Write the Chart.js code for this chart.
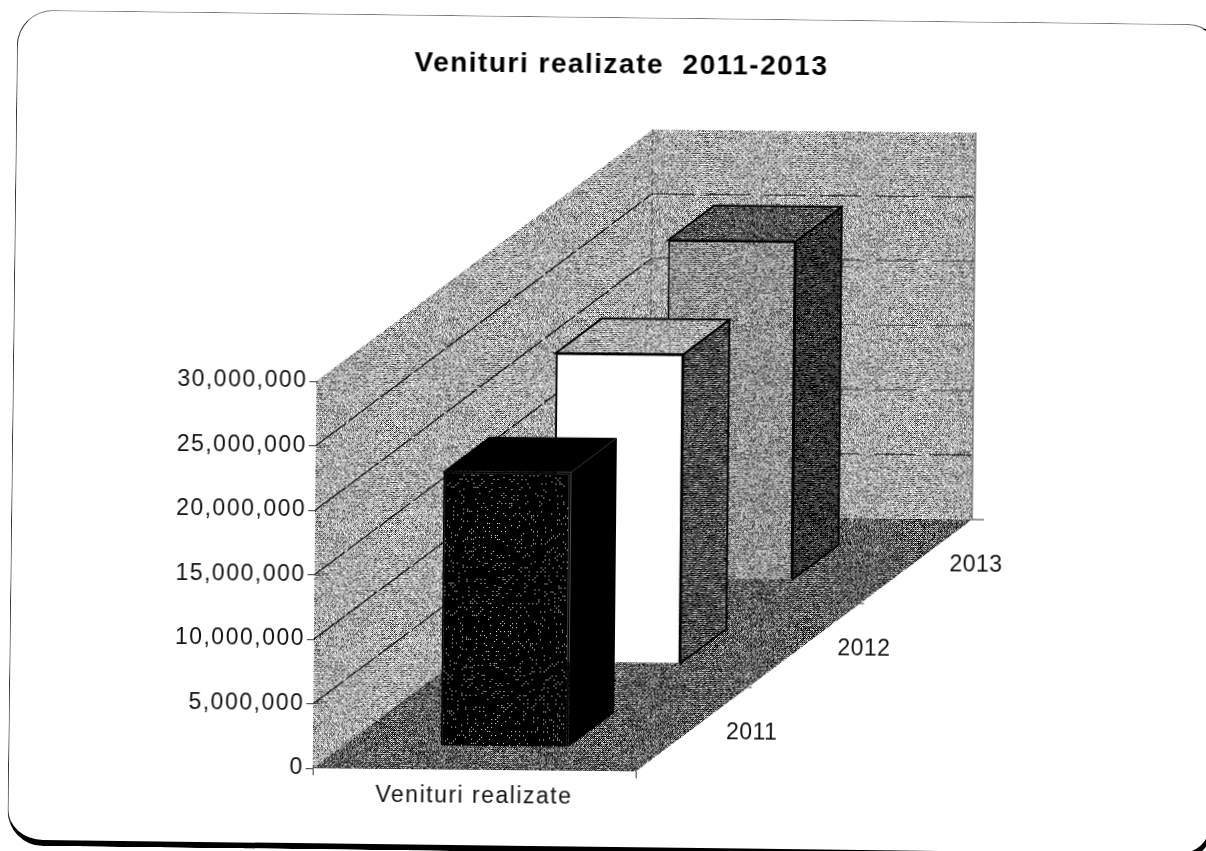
<!DOCTYPE html>
<html>
<head>
<meta charset="utf-8">
<style>
html,body{margin:0;padding:0;background:#fff;width:1206px;height:851px;overflow:hidden}
#frame{position:absolute;left:12px;top:17px;width:1202px;height:829px;box-sizing:content-box;
 border-top:1.5px solid #777;border-left:1.5px solid #333;border-right:4px solid #000;border-bottom:6px solid #000;
 border-radius:36px;transform:rotate(0.7deg);transform-origin:603px 425px}
#c{position:absolute;left:0;top:0;transform:rotate(0.55deg);transform-origin:603px 425.5px}
</style>
<script src="https://cdn.jsdelivr.net/npm/chart.js@4"></script>
</head>
<body>
<div id="frame"></div>
<canvas id="c" width="1206" height="851"></canvas>
<script>
const titleText = 'Venituri realizate  2011-2013';
const categories = ['Venituri realizate'];
const years = ['2011', '2012', '2013'];
const values2011 = [21350000];
const values2012 = [24000000];
const values2013 = [26250000];
const yTicksMax = 30000000;
const yTicksStep = 5000000;

// deterministic halftone tiles imitating the scanned print
const bayer = [[0,8,2,10],[12,4,14,6],[3,11,1,9],[15,7,13,5]];
function tile(white, gray, seed) {
  const n = 128, cv = document.createElement('canvas');
  cv.width = cv.height = n;
  const g = cv.getContext('2d'), im = g.createImageData(n, n);
  let h = seed;
  for (let y = 0; y < n; y++) for (let x = 0; x < n; x++) {
    h = (h * 1103515245 + 12345) & 0x7fffffff;
    const v = bayer[y % 4][x % 4] / 16 * 0.62 + ((h >> 8) % 1000) / 1000 * 0.38;
    const c = v > 1 - white ? 255 : v > 1 - white - gray ? 128 : 0;
    const i = (y * n + x) * 4;
    im.data[i] = im.data[i+1] = im.data[i+2] = c; im.data[i+3] = 255;
  }
  g.putImageData(im, 0, 0);
  return g.canvas;
}
const ctx0 = document.getElementById('c').getContext('2d');
const pat = (w, g, s) => ctx0.createPattern(tile(w, g, s), 'repeat');
const wallFill = pat(.46, .36, 7);
const floorFill = pat(.28, .30, 11);
const frontGray = pat(.38, .38, 13);
const sideDark = pat(.24, .28, 17);
const sideDarker = pat(.12, .32, 19);
const topDark = pat(.24, .32, 23);
const frontBlack = pat(.14, .0, 29);

// per-series look
const fronts = [frontBlack, '#ffffff', frontGray];
const sides = ['#000000', sideDark, sideDarker];
const tops = ['#000000', wallFill, topDark];

const depthX = 334, depthY = -255;       // full floor depth vector
const gapFrac = 0.27, barFrac = 0.41;    // inside one series slot
const depthTickLengths = [4, 4, 12];

function poly(ctx, pts, fill, stroke, lw) {
  ctx.beginPath();
  pts.forEach((p, i) => i ? ctx.lineTo(p[0], p[1]) : ctx.moveTo(p[0], p[1]));
  ctx.closePath();
  if (fill) { ctx.fillStyle = fill; ctx.fill(); }
  if (stroke) { ctx.strokeStyle = stroke; ctx.lineWidth = lw || 1; ctx.stroke(); }
}

const box3d = {
  id: 'box3d',
  afterLayout(chart) { chart.titleBlock.left = 0; chart.titleBlock.right = 1236; },
  beforeDraw(chart) { chart.ctx.letterSpacing = '1.5px'; },
  beforeDatasetsDraw(chart) {
    const {ctx, chartArea: a, scales: {y}} = chart;
    ctx.save();
    ctx.letterSpacing = '0px';
    // floor, side wall, back wall
    poly(ctx, [[a.left,a.bottom],[a.right,a.bottom],[a.right+depthX,a.bottom+depthY],[a.left+depthX,a.bottom+depthY]], floorFill);
    poly(ctx, [[a.left,a.top],[a.left+depthX,a.top+depthY],[a.left+depthX,a.bottom+depthY],[a.left,a.bottom]], wallFill);
    poly(ctx, [[a.left+depthX,a.top+depthY],[a.right+depthX,a.top+depthY],[a.right+depthX,a.bottom+depthY],[a.left+depthX,a.bottom+depthY]], wallFill);
    // gridlines following the walls
    y.ticks.forEach(t => {
      if (t.value === 0 || t.value === yTicksMax) return;
      const py = y.getPixelForValue(t.value);
      ctx.beginPath(); ctx.setLineDash([38, 3]); ctx.strokeStyle = '#000'; ctx.lineWidth = 1.2;
      ctx.moveTo(a.left, py); ctx.lineTo(a.left + depthX, py + depthY); ctx.stroke();
      ctx.beginPath(); ctx.setLineDash([42, 14]); ctx.strokeStyle = '#333'; ctx.lineWidth = 1;
      ctx.moveTo(a.left + depthX, py + depthY); ctx.lineTo(a.right + depthX, py + depthY); ctx.stroke();
    });
    ctx.setLineDash([6, 4]); ctx.strokeStyle = '#333';
    ctx.beginPath(); ctx.moveTo(a.left + depthX, a.top + depthY); ctx.lineTo(a.left + depthX, a.bottom + depthY); ctx.stroke();
    ctx.setLineDash([]);
    ctx.strokeStyle = '#555';
    ctx.beginPath(); ctx.moveTo(a.right + depthX, a.top + depthY); ctx.lineTo(a.right + depthX, a.bottom + depthY); ctx.stroke();
    // depth axis ticks and labels
    ctx.strokeStyle = '#333';
    [1, 2, 3].forEach(k => {
      const px = a.right + depthX * k / 3, py = a.bottom + depthY * k / 3;
      ctx.beginPath(); ctx.moveTo(px, py); ctx.lineTo(px + depthTickLengths[k - 1], py); ctx.stroke();
    });
    ctx.letterSpacing = '0.5px';
    ctx.font = '23px "Liberation Sans", Arial, sans-serif';
    ctx.fillStyle = '#111'; ctx.textAlign = 'center'; ctx.textBaseline = 'middle';
    years.forEach((label, k) => {
      const f = (k + .5) / 3;
      ctx.fillText(label, a.right + depthX * f + 60, a.bottom + depthY * f + 3);
    });
    ctx.restore();
  },
  beforeDatasetDraw(chart, args) {
    const ctx = chart.ctx, i = args.index, el = args.meta.data[0];
    const f = (i + gapFrac) / 3, bf = barFrac / 3;
    ctx.save();
    ctx.translate(depthX * f, depthY * f);
    const l = el.x - el.width / 2, r = el.x + el.width / 2, t = el.y, b = el.base;
    const dx = depthX * bf, dy = depthY * bf;
    const edge = i === 2 || i === 1 ? '#000' : null;
    poly(ctx, [[r,t],[r+dx,t+dy],[r+dx,b+dy],[r,b]], sides[i], edge, 2);
    poly(ctx, [[l,t],[l+dx,t+dy],[r+dx,t+dy],[r,t]], tops[i], edge, 2);
  },
  afterDatasetDraw(chart) { chart.ctx.restore(); }
};

const font = {family: '"Liberation Sans", Arial, sans-serif', size: 23};

new Chart(ctx0, {
  type: 'bar',
  data: {
    labels: categories,
    datasets: [values2011, values2012, values2013].map((d, i) => ({
      label: years[i], data: d, grouped: false, clip: false,
      barPercentage: 0.395, categoryPercentage: 1,
      backgroundColor: fronts[i], borderColor: '#000', borderWidth: 2
    }))
  },
  options: {
    responsive: false, animation: false, devicePixelRatio: 1,
    layout: {autoPadding: false, padding: {left: 0, top: 0, right: 567, bottom: 0}},
    plugins: {
      legend: {display: false}, tooltip: {enabled: false},
      title: {display: true, text: titleText, color: '#000',
        font: {family: font.family, size: 28, weight: 'bold'},
        padding: {top: 48, bottom: 302.4}}
    },
    scales: {
      x: {
        afterFit(s) { s.height = 80; },
        grid: {drawOnChartArea: false, drawTicks: true, tickLength: 7, color: '#333'},
        border: {display: false},
        ticks: {font, color: '#111', padding: 6, maxRotation: 0}
      },
      y: {
        min: 0, max: yTicksMax,
        afterFit(s) { s.width = 316; },
        grid: {drawOnChartArea: false, drawTicks: true, tickLength: 7, color: '#333'},
        border: {display: true, color: '#555'},
        ticks: {font, color: '#111', padding: 2, stepSize: yTicksStep,
          callback: v => v.toLocaleString('en-US')}
      }
    }
  },
  plugins: [box3d]
});
</script>
</body>
</html>
